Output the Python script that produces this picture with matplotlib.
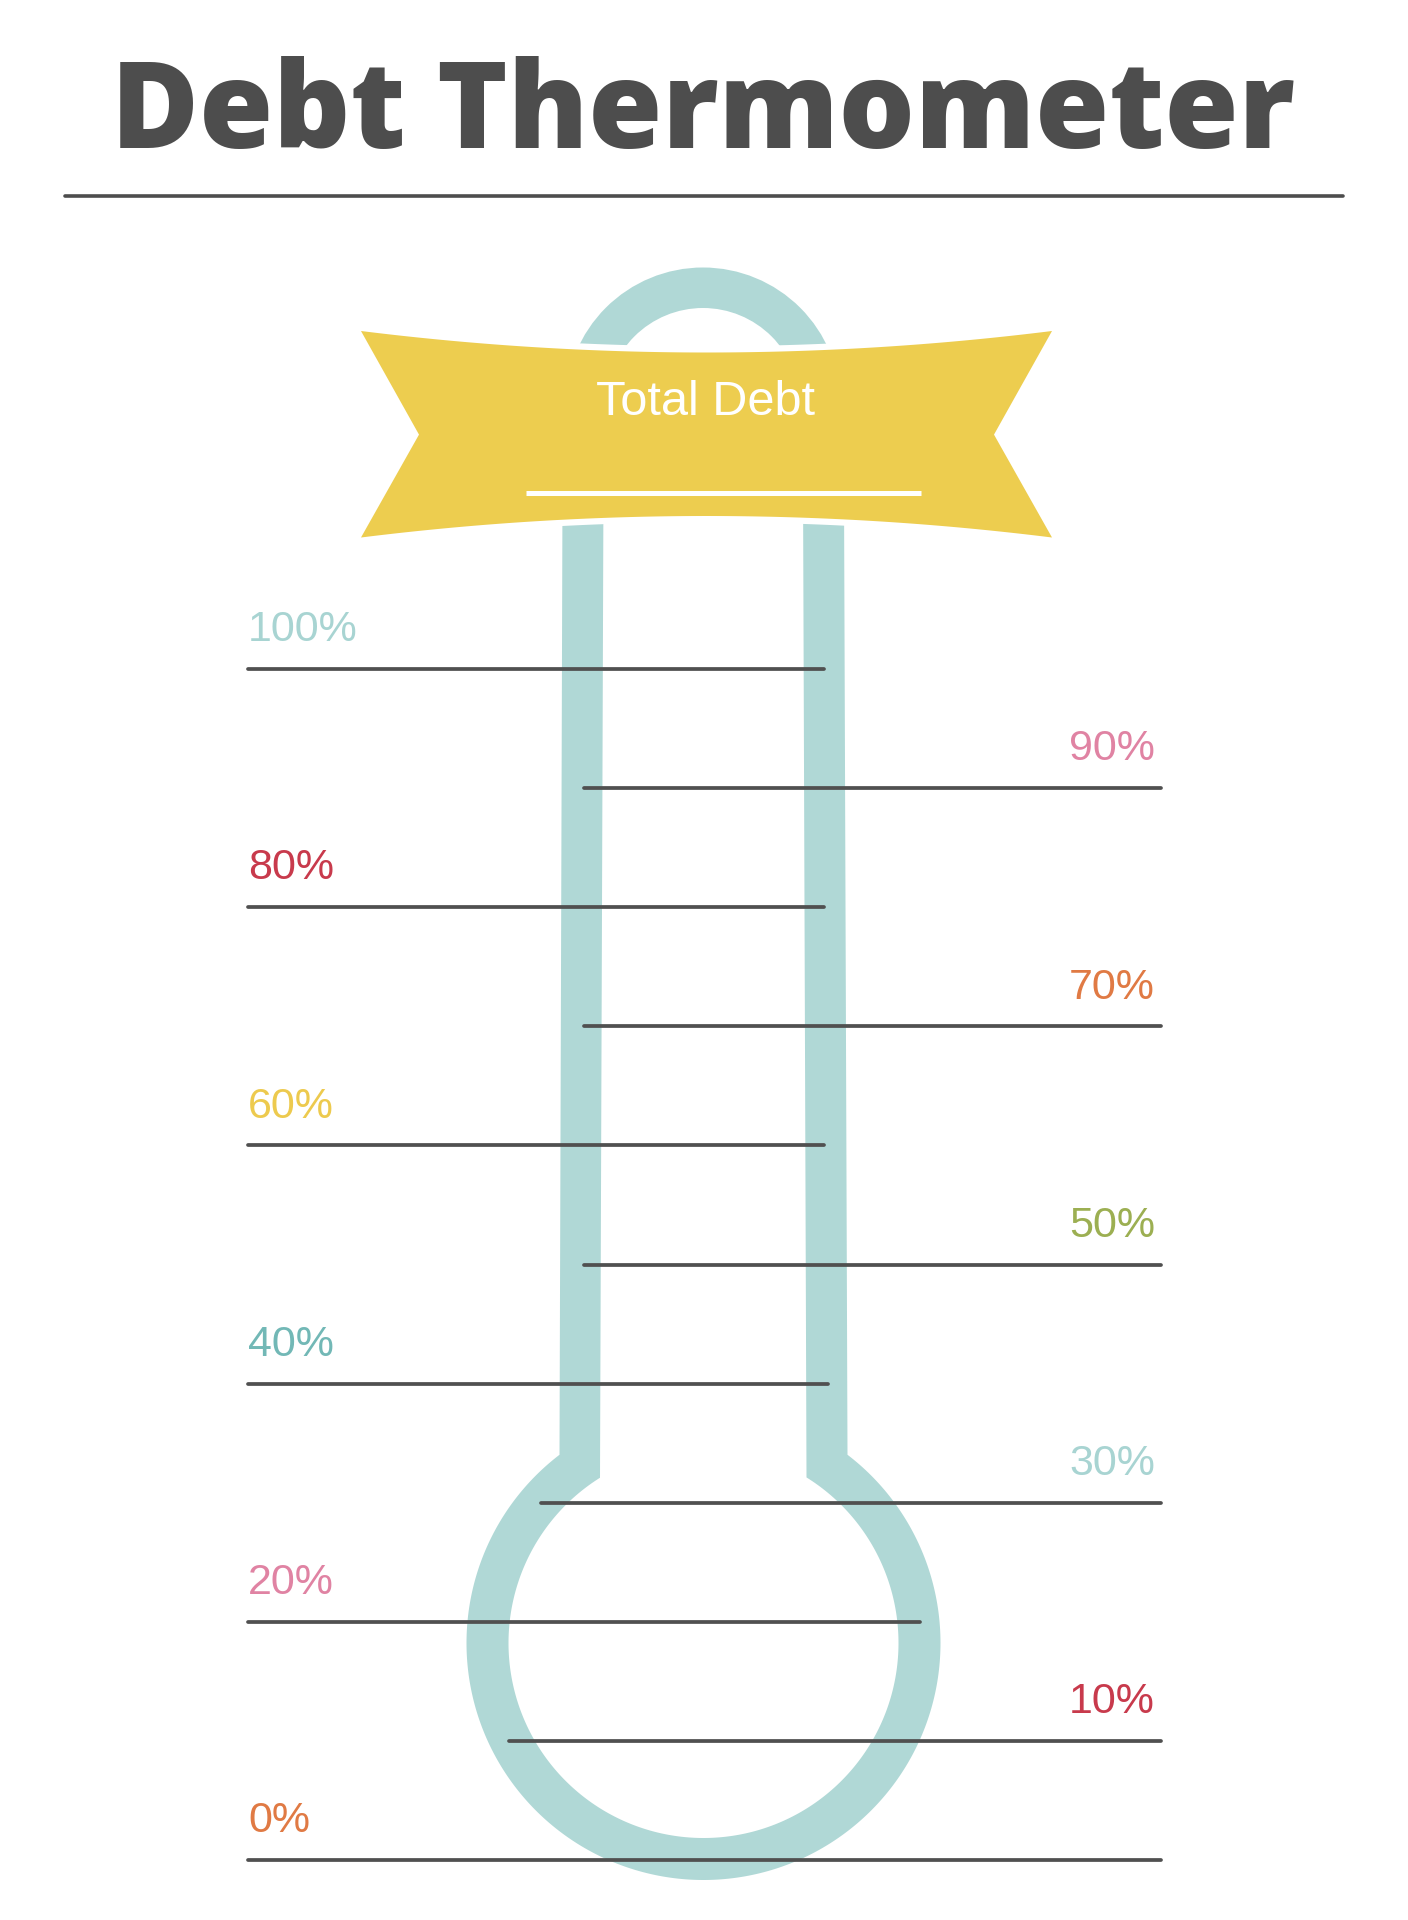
import numpy as np
import matplotlib
matplotlib.use("Agg")
import matplotlib.pyplot as plt
from matplotlib.patches import Polygon, Wedge

# ---- data ----
levels = [0, 10, 20, 30, 40, 50, 60, 70, 80, 90, 100]
level_labels = ["0%", "10%", "20%", "30%", "40%", "50%", "60%", "70%", "80%", "90%", "100%"]
title = "Debt Thermometer"
banner_text = "Total Debt"

# ---- styles / layout ----
label_colors = ["#e07a44", "#c83a4c", "#e083a3", "#a8d4d2", "#72b8b6", "#9caf52",
                "#edca4e", "#e07a44", "#c83a4c", "#e083a3", "#a8d4d2"]
line_extents = [(248, 1161), (509, 1161), (248, 920), (541, 1161), (248, 828), (584, 1161),
                (248, 824), (584, 1161), (248, 824), (584, 1161), (248, 824)]
TEAL = "#b0d8d6"
YELLOW = "#edcd4f"
DARK = "#4d4d4d"

W, H = 1408, 1920
fig = plt.figure(figsize=(W / 100, H / 100), dpi=100)
ax = fig.add_axes([0, 0, 1, 1])
ax.set_xlim(0, W)
ax.set_ylim(H, 0)
ax.axis("off")

# title
ax.text(703, 148, title, ha="center", va="baseline", fontsize=86.5,
        family=["Open Sans", "DejaVu Sans"], fontweight=800, color=DARK)
ax.plot([65, 1343], [196, 196], color=DARK, lw=2.6, solid_capstyle="round")

# top arc (ring)
ax.add_patch(Wedge((703, 405), 137.5, 180, 360, width=40.5, color=TEAL, lw=0, zorder=1))

# tube + bulb
cx, cy = 703.5, 1643


def contour(xl_top, xr_top, xl_j, xr_j, r, ytop):
    dl = np.sqrt(r ** 2 - (cx - xl_j) ** 2)
    dr = np.sqrt(r ** 2 - (xr_j - cx) ** 2)
    tl = np.arctan2(-dl, xl_j - cx) % (2 * np.pi)
    tr = np.arctan2(-dr, xr_j - cx)
    t = np.linspace(tl, tr, 300)
    pts = [(xl_top, ytop)]
    pts += list(zip(cx + r * np.cos(t), cy + r * np.sin(t)))
    pts += [(xr_top, ytop)]
    return pts


outer = contour(562.5, 844, 559.5, 847.5, 237, 490)
inner = contour(603.5, 803, 600, 806.5, 195, 480)
ax.add_patch(Polygon(outer, closed=True, color=TEAL, lw=0, zorder=1))
ax.add_patch(Polygon(inner, closed=True, color="white", lw=0, zorder=2))

# banner
xs = np.linspace(361, 1052, 200)
u = (xs - 706.5) / 345.5
top = 352.5 - 21.5 * u ** 2
bot = 516 + 21.5 * u ** 2
banner = list(zip(xs, top)) + [(994, 434.6)] + list(zip(xs[::-1], bot[::-1])) + [(419, 434.6)]
ax.add_patch(Polygon(banner, closed=True, facecolor="white", edgecolor="white", lw=9, zorder=3))
ax.add_patch(Polygon(banner, closed=True, facecolor=YELLOW, edgecolor="none", zorder=4))
ax.text(705, 415, banner_text, ha="center", va="baseline", fontsize=35,
        family=["Liberation Sans", "DejaVu Sans"], color="white", zorder=5)
ax.plot([526, 921], [493, 493], color="white", lw=3.6, solid_capstyle="butt", zorder=5)

# percentage scale axes
ax2 = fig.add_axes([0, 0, 1, 1])
ax2.patch.set_alpha(0)
ax2.set_xlim(0, W)
px_per_pct = 11.91
y0 = 1860
ax2.set_ylim((y0 - H) / px_per_pct, y0 / px_per_pct)
ax2.axis("off")

for i, (lv, lab) in enumerate(zip(levels, level_labels)):
    x1, x2 = line_extents[i]
    ax2.plot([x1, x2], [lv, lv], color="#505050", lw=2.7, solid_capstyle="round", zorder=6)
    left = (lv // 10) % 2 == 0
    ax2.annotate(lab, xy=(248 if left else 1155, lv), xytext=(0, 20), textcoords="offset points",
                 ha="left" if left else "right", va="baseline", fontsize=31,
                 family=["Liberation Sans", "DejaVu Sans"], color=label_colors[i], zorder=7)

fig.savefig("out.png", dpi=100, facecolor="white")
